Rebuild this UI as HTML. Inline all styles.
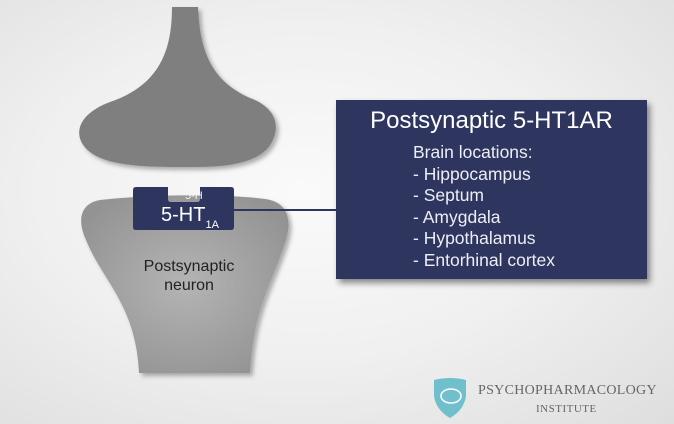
<!DOCTYPE html>
<html><head><style>
body{margin:0;width:674px;height:424px;overflow:hidden;background:radial-gradient(ellipse at 45% 45%,#fafafa 0%,#f0f0f0 50%,#dedede 100%);font-family:"Liberation Sans",sans-serif;position:relative}
.box{position:absolute;left:336px;top:100px;width:311px;height:179px;background:#2e3660;box-shadow:3px 4px 6px rgba(0,0,0,.45);color:#fff}
</style></head><body>
<svg width="674" height="424" style="position:absolute;left:0;top:0">
<defs>
<radialGradient id="g2" cx=".5" cy=".5" r=".6"><stop offset="0" stop-color="#b4b4b4"/><stop offset="1" stop-color="#939393"/></radialGradient>
<filter id="sh"><feDropShadow dx="3" dy="3" stdDeviation="2" flood-opacity=".3"/></filter>
</defs>
<path d="M172 7 L198 7 C200 50 210 80 250 98 C278 108 282 130 268 148 C250 168 210 167 185 167 C160 167 110 168 90 152 C72 138 75 115 110 102 C160 85 172 50 172 7Z" fill="#7f7f7f" filter="url(#sh)"/>
<path d="M100 200 C150 194 230 194 265 199 C288 202 292 220 286 240 C272 285 254 305 250 373 L139 373 C136 305 102 280 86 240 C76 218 82 203 100 200Z" fill="url(#g2)" filter="url(#sh)"/>
<text x="189" y="271" font-size="16" fill="#222" text-anchor="middle" font-family="Liberation Sans">Postsynaptic</text>
<text x="189" y="290" font-size="16" fill="#222" text-anchor="middle" font-family="Liberation Sans">neuron</text>
<path d="M136 187 L168 187 L168 199 Q168 202 171 202 L197 202 Q200 202 200 199 L200 187 L231 187 Q234 187 234 190 L234 227 Q234 230 231 230 L136 230 Q133 230 133 227 L133 190 Q133 187 136 187Z" fill="#2e3660"/>
<text x="185" y="199" font-size="11" fill="#f4f4f4" font-family="Liberation Sans">5-H</text>
<text x="161" y="221" font-size="20" fill="#fff" font-family="Liberation Sans">5-HT<tspan font-size="11" dy="7">1A</tspan></text>
<line x1="234" y1="210" x2="336" y2="210" stroke="#2e3660" stroke-width="2"/>
<path d="M434 380 Q450 376 466 380 L466 396 Q464 410 450 418 Q436 410 434 396Z" fill="#6fbfcc"/>
<ellipse cx="451" cy="396" rx="10" ry="7" fill="none" stroke="#fff" stroke-width="1.5"/>
<text x="478" y="394" font-size="14" fill="#666" font-family="Liberation Serif" letter-spacing="0.3">PSYCHOPHARMACOLOGY</text>
<text x="536" y="412" font-size="11" fill="#666" font-family="Liberation Serif" letter-spacing="0.5">INSTITUTE</text>
</svg>
<div class="box">
<div style="position:absolute;left:0;width:311px;top:7px;text-align:center;font-size:24px">Postsynaptic 5-HT1AR</div>
<div style="position:absolute;left:77px;top:42px;font-size:17.5px;line-height:21.6px;color:#eceef4">Brain locations:<br>- Hippocampus<br>- Septum<br>- Amygdala<br>- Hypothalamus<br>- Entorhinal cortex</div>
</div>
</body></html>
